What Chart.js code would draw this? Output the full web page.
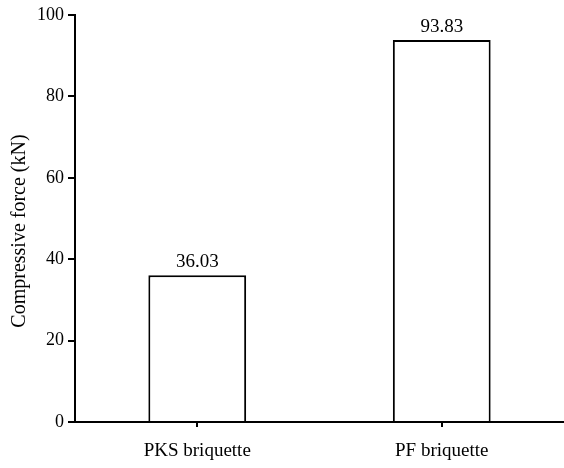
<!DOCTYPE html>
<html>
<head>
<meta charset="utf-8">
<script src="https://cdn.jsdelivr.net/npm/chart.js@4"></script>
<style>
  html, body { margin: 0; padding: 0; background: #fff; }
  #wrap { width: 564px; height: 468px; }
</style>
</head>
<body>
<div id="wrap"><canvas id="chart"></canvas></div>
<script>
// Data
const categories = ['PKS briquette', 'PF briquette'];
const forceValues = [36.03, 93.83];
const yTicks = [0, 20, 40, 60, 80, 100];
const yTitle = 'Compressive force (kN)';

const fontFamily = '"Liberation Serif", "Times New Roman", serif';

// Draw the value above each bar and the y axis title
const valueLabels = {
    id: 'valueLabels',
    afterDatasetsDraw(chart) {
        const ctx = chart.ctx;
        const meta = chart.getDatasetMeta(0);
        ctx.save();
        ctx.font = '19px ' + fontFamily;
        ctx.fillStyle = '#000';
        ctx.textAlign = 'center';
        ctx.textBaseline = 'alphabetic';
        meta.data.forEach((bar, i) => {
            ctx.fillText(forceValues[i].toFixed(2), bar.x, bar.y - 8);
        });
        // y title, a bit below the middle like the original
        ctx.translate(20, 231);
        ctx.rotate(-Math.PI / 2);
        ctx.font = '20px ' + fontFamily;
        ctx.textBaseline = 'middle';
        ctx.fillText(yTitle, 0, 0);
        ctx.restore();
    }
};

new Chart(document.getElementById('chart'), {
    type: 'bar',
    data: {
        labels: categories,
        datasets: [{
            data: forceValues,
            backgroundColor: '#ffffff',
            borderColor: '#000000',
            borderWidth: 2,
            borderSkipped: 'bottom',
            barPercentage: 0.4,
            categoryPercentage: 1
        }]
    },
    options: {
        responsive: true,
        maintainAspectRatio: false,
        animation: false,
        layout: { padding: { top: 15, right: 0, left: 0, bottom: 0 } },
        plugins: {
            legend: { display: false },
            tooltip: { enabled: false }
        },
        scales: {
            x: {
                grid: { offset: false, drawOnChartArea: false, color: '#000', lineWidth: 2, tickLength: 5 },
                border: { color: '#000', width: 2 },
                ticks: { color: '#000', font: { family: fontFamily, size: 19 }, padding: 13 },
                afterFit: (s) => { s.height = 46; }
            },
            y: {
                min: 0,
                max: 100,
                afterBuildTicks: (s) => { s.ticks = yTicks.map(v => ({ value: v })); },
                grid: { drawOnChartArea: false, color: '#000', lineWidth: 2, tickLength: 7 },
                border: { color: '#000', width: 2 },
                ticks: { color: '#000', font: { family: fontFamily, size: 18 }, padding: 4 },
                afterFit: (s) => { s.width = 75; }
            }
        }
    },
    plugins: [valueLabels]
});
</script>
</body>
</html>
